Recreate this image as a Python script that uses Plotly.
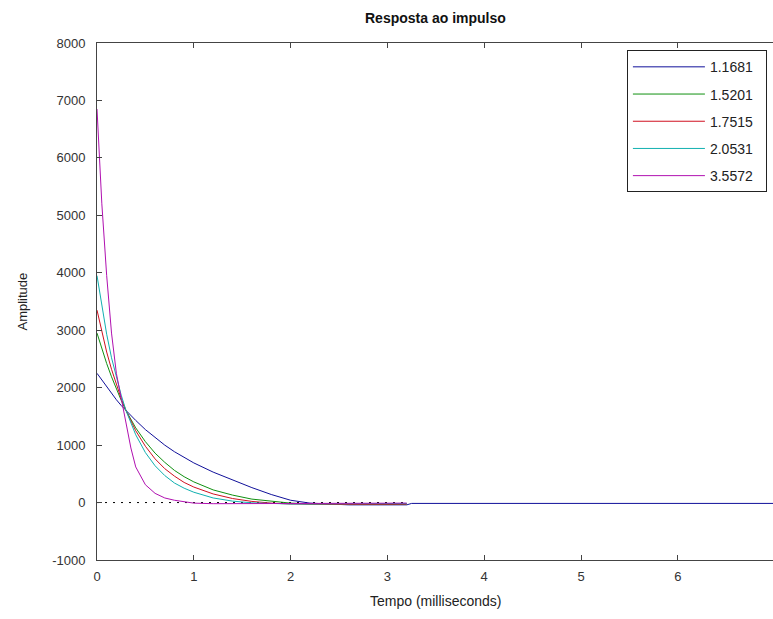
import plotly.graph_objects as go

# Sample times (milliseconds) shared by the five impulse responses
t_ms = [0, 0.05, 0.1, 0.15, 0.2, 0.25, 0.3, 0.35, 0.4, 0.5, 0.6, 0.7, 0.8, 0.9, 1.0,
        1.2, 1.4, 1.6, 1.8, 2.0, 2.2, 2.4, 2.6, 2.8, 3.0, 3.2]

# Legend labels (one per system)
labels = ["1.1681", "1.5201", "1.7515", "2.0531", "3.5572"]

# Impulse response amplitudes for each system
amp_1 = [2250, 2130, 2010, 1900, 1790, 1690, 1600, 1515, 1430, 1270, 1130, 1000, 885, 785, 690,
         530, 390, 260, 140, 40, -10, -30, -40, -40, -40, -40]
amp_2 = [2950, 2680, 2420, 2190, 1980, 1780, 1600, 1445, 1300, 1060, 860, 700, 560, 450, 360,
         220, 130, 60, 20, -10, -25, -30, -30, -30, -28, -25]
amp_3 = [3350, 2960, 2620, 2320, 2050, 1810, 1600, 1415, 1250, 980, 760, 590, 460, 350, 270,
         150, 70, 20, -10, -25, -32, -35, -33, -30, -28, -25]
amp_4 = [3950, 3400, 2930, 2520, 2170, 1870, 1600, 1380, 1180, 870, 640, 470, 340, 250, 180,
         80, 25, -5, -20, -25, -25, -25, -22, -20, -18, -15]
amp_5 = [6850, 5200, 3950, 2950, 2250, 1800, 1420, 950, 620, 310, 160, 80, 40, 10, -10,
         -20, -20, -20, -20, -20, -18, -16, -15, -14, -12, -10]

# Long tail of the first system
tail_t = [3.25, 7.0]
tail_amp = [-15, -15]

# Steady-state reference line
steady_value = 0
steady_t = [0, 3.2]

# Axis ticks
x_ticks = [0, 1, 2, 3, 4, 5, 6, 7]
y_ticks = [-1000, 0, 1000, 2000, 3000, 4000, 5000, 6000, 7000, 8000]
y_ticktext = ["-1000", "0", "1000", "2000", "3000", "4000", "5000", "6000", "7000", "8000"]

colors = ["#10109a", "#109010", "#d01020", "#10b0b0", "#b010b0"]
series = [amp_1, amp_2, amp_3, amp_4, amp_5]

FONT = "Liberation Sans, Arial, sans-serif"
PAD = "\u00a0\u00a0"  # right padding inside the legend box

fig = go.Figure()

fig.add_trace(go.Scatter(
    x=steady_t, y=[steady_value] * len(steady_t), mode="lines",
    line=dict(color="black", width=1, dash="2px,6px"),
    showlegend=False, hoverinfo="skip"))

for i, (lab, amp, col) in enumerate(zip(labels, series, colors)):
    x = list(t_ms)
    y = list(amp)
    if i == 0:
        x += tail_t
        y += tail_amp
    fig.add_trace(go.Scatter(
        x=x, y=y, mode="lines", name=lab + PAD, legendgroup=lab,
        line=dict(color=col, width=1)))

fig.update_layout(
    width=773, height=619,
    margin=dict(l=97, r=0, t=43, b=59),
    paper_bgcolor="white", plot_bgcolor="white",
    font=dict(family=FONT, size=13, color="#222"),
    showlegend=True,
    legend=dict(
        x=0.991, y=0.986, xanchor="right", yanchor="top",
        bgcolor="white", bordercolor="#222", borderwidth=1,
        font=dict(family=FONT, size=14, color="#222"),
        tracegroupgap=6, itemwidth=72,
    ),
)

fig.update_xaxes(
    range=[0, 6.983], tickvals=x_ticks,
    showgrid=False, zeroline=False,
    showline=True, linecolor="#444", linewidth=1, mirror="ticks",
    ticks="inside", ticklen=5, tickcolor="#444",
    tickfont=dict(family=FONT, size=13, color="#333"),
    ticklabelstandoff=4,
)
fig.update_yaxes(
    range=[-1000, 8000], tickvals=y_ticks, ticktext=y_ticktext,
    showgrid=False, zeroline=False,
    showline=True, linecolor="#444", linewidth=1, mirror=False,
    ticks="inside", ticklen=5, tickcolor="#444",
    tickfont=dict(family=FONT, size=13, color="#333"),
    ticklabelstandoff=8,
)

fig.add_annotation(text="<b>Resposta ao impulso</b>", xref="paper", yref="paper",
                   x=0.5, y=1, yanchor="middle", yshift=25, showarrow=False,
                   font=dict(family=FONT, size=14, color="#111"))
fig.add_annotation(text="Tempo (milliseconds)", xref="paper", yref="paper",
                   x=0.5, y=0, yanchor="middle", yshift=-41, showarrow=False,
                   font=dict(family=FONT, size=14, color="#222"))
fig.add_annotation(text="Amplitude", xref="paper", yref="paper",
                   x=0, y=0.5, xanchor="center", xshift=-75, textangle=-90,
                   showarrow=False, font=dict(family=FONT, size=13, color="#222"))

fig.write_html("out.html")
